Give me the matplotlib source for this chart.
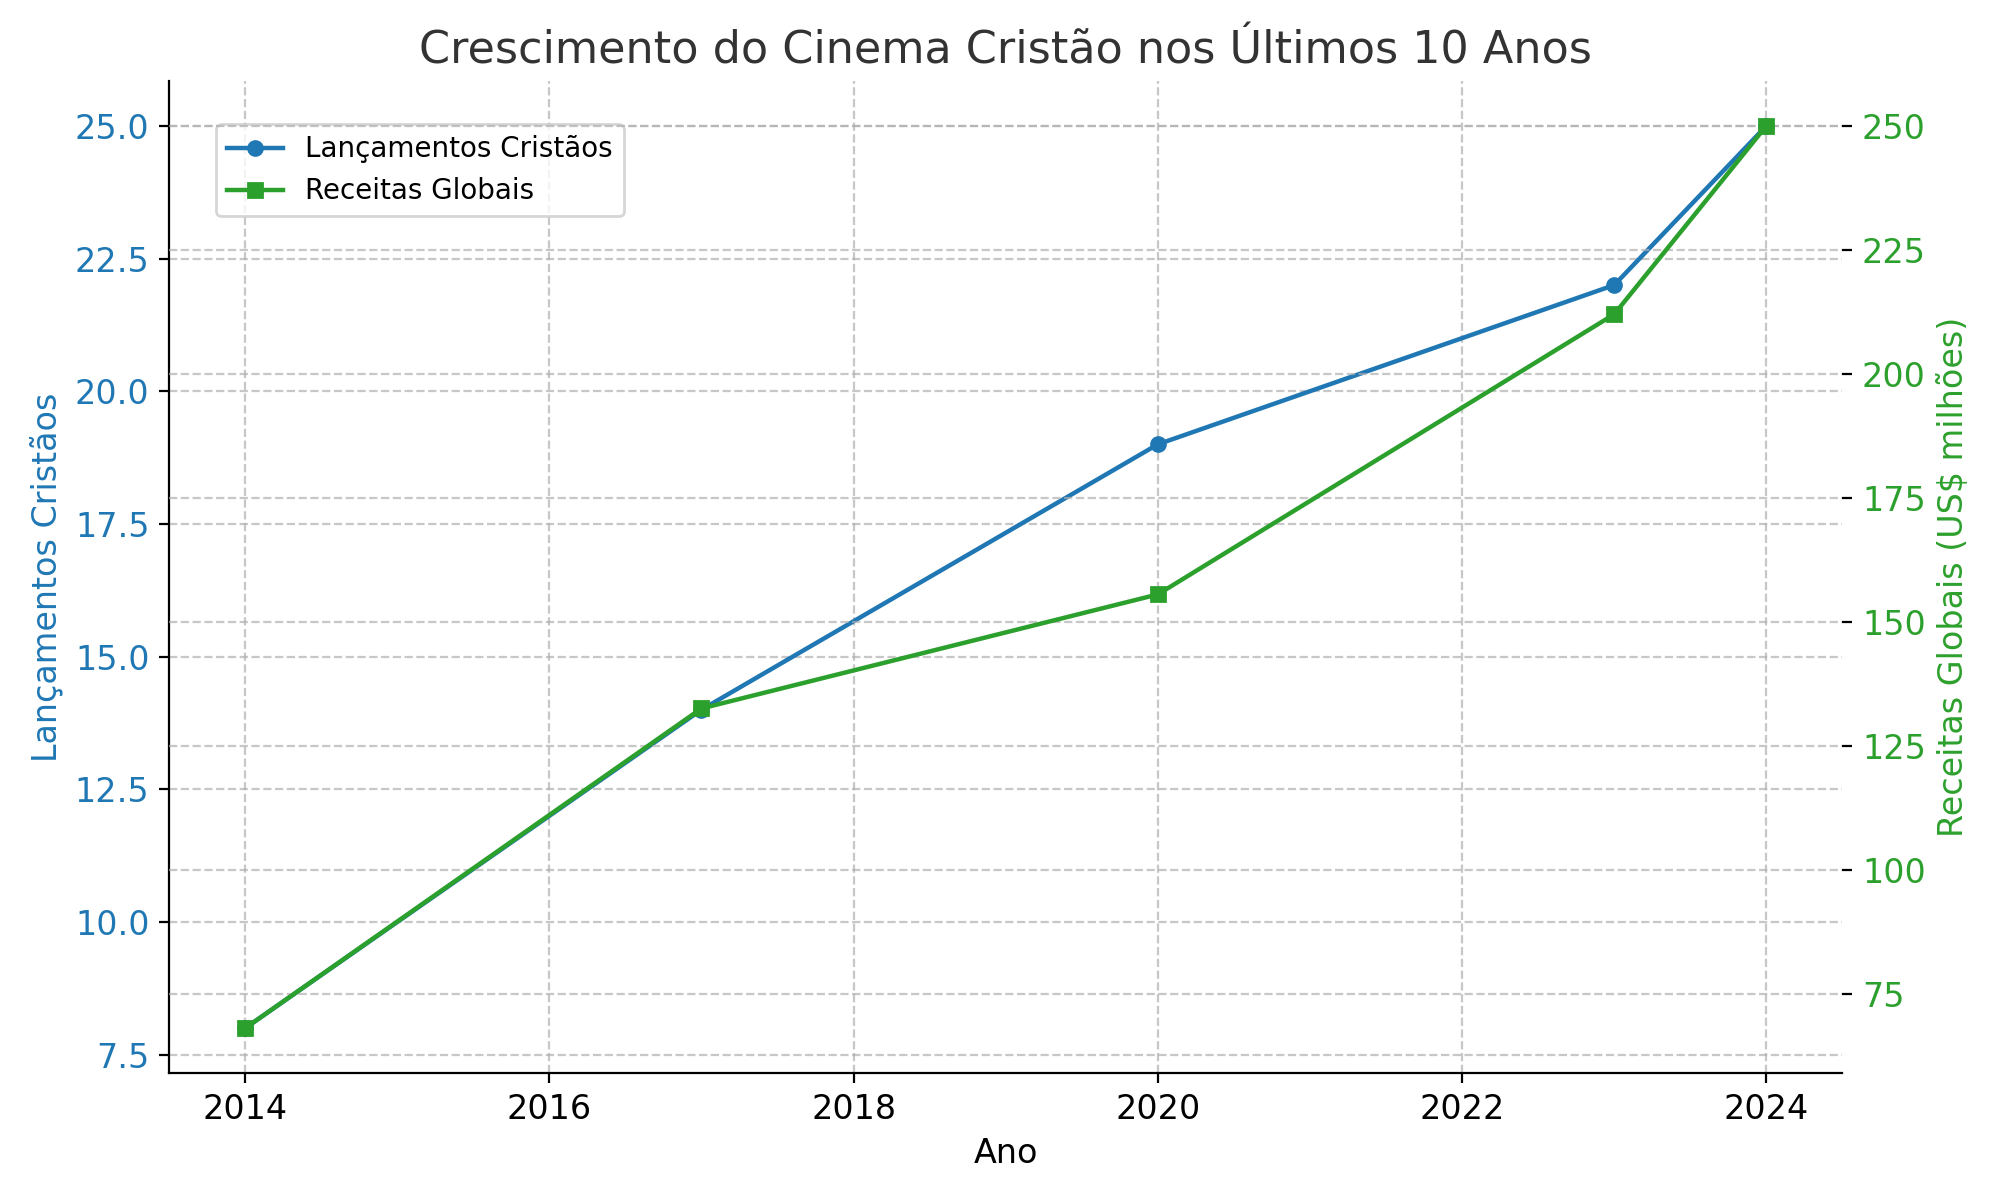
import matplotlib.pyplot as plt

years = [2014, 2017, 2020, 2023, 2024]
lancamentos = [8, 14, 19, 22, 25]
receitas = [68, 132.5, 155.5, 212, 250]

blue = "#1f77b4"
green = "#2ca02c"

fig, ax1 = plt.subplots(figsize=(10, 6), dpi=200)

l1, = ax1.plot(years, lancamentos, color=blue, marker="o", linewidth=1.6,
               markersize=5, label="Lançamentos Cristãos")
ax1.set_xlabel("Ano", fontsize=12)
ax1.set_ylabel("Lançamentos Cristãos", color=blue, fontsize=12)
ax1.tick_params(axis="y", labelcolor=blue, labelsize=12)
ax1.tick_params(axis="x", labelsize=12)
ax1.grid(True, linestyle="--", alpha=0.7)
ax1.spines["top"].set_visible(False)
ax1.spines["right"].set_visible(False)

ax2 = ax1.twinx()
l2, = ax2.plot(years, receitas, color=green, marker="s", linewidth=1.6,
               markersize=5, label="Receitas Globais")
ax2.set_ylabel("Receitas Globais (US$ milhões)", color=green, fontsize=12)
ax2.tick_params(axis="y", labelcolor=green, labelsize=12)
ax2.grid(True, linestyle="--", alpha=0.7)
for s in ["top", "right", "left", "bottom"]:
    ax2.spines[s].set_visible(False)

ax1.legend(handles=[l1, l2], loc="upper left", bbox_to_anchor=(0.02, 0.97),
           fontsize=10)
ax1.set_title("Crescimento do Cinema Cristão nos Últimos 10 Anos",
              fontsize=16, color="#333333")

fig.tight_layout()
fig.savefig("out.png")
